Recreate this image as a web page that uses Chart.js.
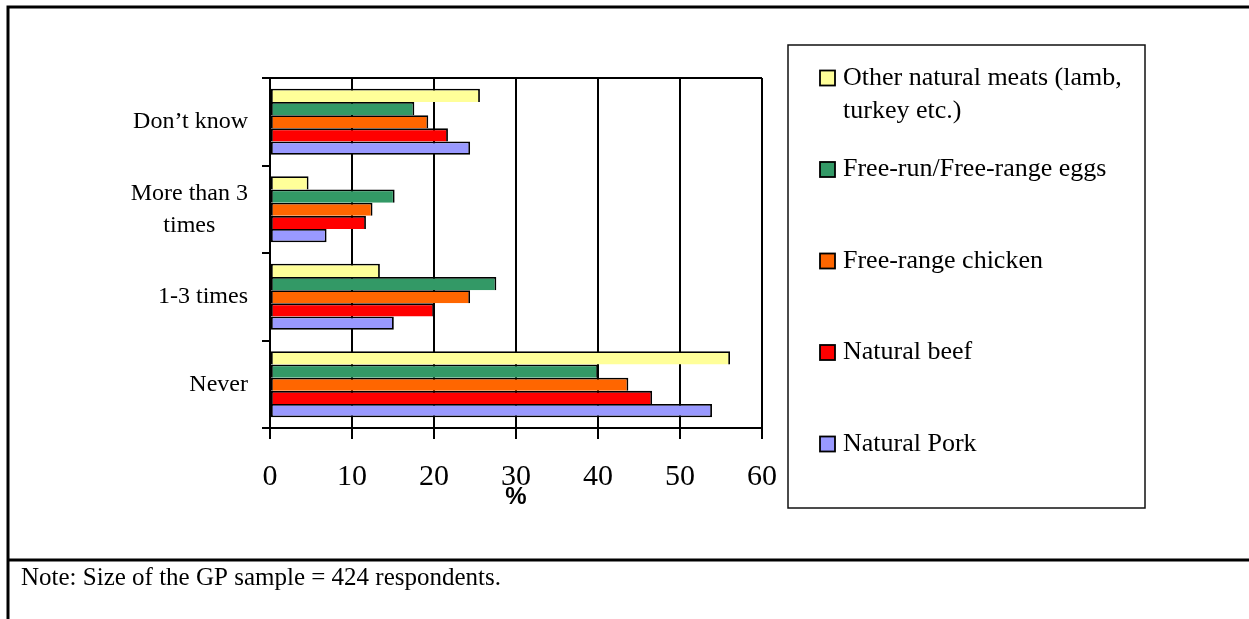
<!DOCTYPE html>
<html>
<head>
<meta charset="utf-8">
<script src="https://cdn.jsdelivr.net/npm/chart.js@4/dist/chart.umd.min.js"></script>
<style>
  html, body { margin: 0; padding: 0; background: #ffffff; }
  #wrap { position: relative; width: 1249px; height: 619px; }
  canvas { display: block; }
</style>
</head>
<body>
<div id="wrap"><canvas id="chart" width="1249" height="619"></canvas></div>
<script>
// Purchase frequency categories (top to bottom)
const categories = [["Don\u2019t know"], ["More than 3", "times"], ["1-3 times"], ["Never"]];

// Product series, in legend order
const seriesNames = [
  "Other natural meats (lamb, turkey etc.)",
  "Free-run/Free-range eggs",
  "Free-range chicken",
  "Natural beef",
  "Natural Pork"
];
const otherMeats = [25.6, 4.7, 13.4, 56.1];
const eggs       = [17.6, 15.2, 27.6, 40.0];
const chicken    = [19.3, 12.5, 24.4, 43.7];
const beef       = [21.7, 11.7, 20.0, 46.6];
const pork       = [24.4, 6.9, 15.1, 53.9];
const seriesColors = ["#FFFF99", "#339966", "#FF6600", "#FF0000", "#9999FF"];

// Value axis
const xTicks = [0, 10, 20, 30, 40, 50, 60];
const axisTitle = "%";
const noteText = "Note: Size of the GP sample = 424 respondents.";

const seriesValues = [otherMeats, eggs, chicken, beef, pork];
const SERIF = "'Liberation Serif', 'Times New Roman', serif";
const SANS = "'Liberation Sans', Arial, sans-serif";
const BW = 1.8;

const datasets = seriesNames.map((name, i) => ({
  label: name,
  data: seriesValues[i],
  backgroundColor: seriesColors[i],
  borderColor: "#000000",
  // bars in a group share one separating line
  borderWidth: i === seriesNames.length - 1
    ? { top: BW, bottom: BW, left: BW, right: BW }
    : { top: BW, bottom: 0, left: BW, right: BW },
  borderSkipped: false,
  barPercentage: 1.0,
  categoryPercentage: 0.755
}));

// Page frame, note row, plot box top edge
const framePlugin = {
  id: "frame",
  beforeDraw(chart) {
    const ctx = chart.ctx;
    ctx.save();
    ctx.fillStyle = "#ffffff";
    ctx.fillRect(0, 0, chart.width, chart.height);
    ctx.strokeStyle = "#000000";
    ctx.lineWidth = 3;
    ctx.beginPath();
    ctx.moveTo(8, 7); ctx.lineTo(chart.width, 7);
    ctx.moveTo(8, 5.5); ctx.lineTo(8, chart.height);
    ctx.moveTo(8, 560); ctx.lineTo(chart.width, 560);
    ctx.stroke();
    ctx.fillStyle = "#000000";
    ctx.font = "25px " + SERIF;
    ctx.textBaseline = "alphabetic";
    ctx.textAlign = "left";
    ctx.fillText(noteText, 21, 585);
    ctx.restore();
  },
  beforeDatasetsDraw(chart) {
    const a = chart.chartArea;
    const ctx = chart.ctx;
    ctx.save();
    ctx.strokeStyle = "#000000";
    ctx.lineWidth = 2;
    ctx.beginPath();
    ctx.moveTo(a.left, a.top);
    ctx.lineTo(a.right, a.top);
    ctx.stroke();
    ctx.restore();
  }
};

// Category labels: block right-aligned, lines centred within the block
const categoryLabelPlugin = {
  id: "categoryLabels",
  afterDraw(chart) {
    const ys = chart.scales.y;
    const ctx = chart.ctx;
    const rightEdge = 248;
    const lineH = 32;
    ctx.save();
    ctx.font = "24px " + SERIF;
    ctx.fillStyle = "#000000";
    ctx.textAlign = "center";
    ctx.textBaseline = "middle";
    chart.data.labels.forEach((lines, i) => {
      const yc = ys.getPixelForTick(i);
      const w = Math.max(...lines.map(l => ctx.measureText(l).width));
      const cx = rightEdge - w / 2;
      const y0 = yc - (lines.length - 1) * lineH / 2;
      lines.forEach((l, k) => ctx.fillText(l, cx, y0 + k * lineH));
    });
    ctx.restore();
  }
};

// Boxed legend on the right, built from the datasets
const boxLegendPlugin = {
  id: "boxLegend",
  afterDraw(chart) {
    const ctx = chart.ctx;
    const box = { x1: 788, y1: 45, x2: 1145, y2: 508 };
    ctx.save();
    ctx.strokeStyle = "#111111";
    ctx.lineWidth = 1.5;
    ctx.strokeRect(box.x1, box.y1, box.x2 - box.x1, box.y2 - box.y1);
    ctx.font = "26px " + SERIF;
    ctx.textBaseline = "middle";
    ctx.textAlign = "left";
    const textX = 843, swX = 820, sw = 15;
    const firstY = 78, step = 91.5, lineH = 33;
    const maxW = box.x2 - textX - 6;
    chart.data.datasets.forEach((ds, i) => {
      const y = firstY + i * step;
      // wrap long labels
      const words = ds.label.split(" ");
      const lines = [];
      let cur = "";
      words.forEach(w => {
        const t = cur ? cur + " " + w : w;
        if (ctx.measureText(t).width > maxW && cur) { lines.push(cur); cur = w; }
        else cur = t;
      });
      if (cur) lines.push(cur);
      ctx.fillStyle = ds.backgroundColor;
      ctx.fillRect(swX, y - sw / 2, sw, sw);
      ctx.strokeStyle = "#000000";
      ctx.lineWidth = 1.8;
      ctx.strokeRect(swX, y - sw / 2, sw, sw);
      ctx.fillStyle = "#000000";
      lines.forEach((l, k) => ctx.fillText(l, textX, y + k * lineH));
    });
    ctx.restore();
  }
};

new Chart(document.getElementById("chart"), {
  type: "bar",
  data: { labels: categories, datasets: datasets },
  plugins: [framePlugin, categoryLabelPlugin, boxLegendPlugin],
  options: {
    indexAxis: "y",
    responsive: false,
    animation: false,
    devicePixelRatio: 1,
    layout: { padding: { top: 78, right: 487, bottom: 0, left: 0 } },
    plugins: {
      legend: { display: false },
      tooltip: { enabled: false },
      title: { display: false }
    },
    scales: {
      x: {
        type: "linear",
        min: 0,
        max: 60,
        afterBuildTicks(s) { s.ticks = xTicks.map(v => ({ value: v })); },
        afterFit(s) { s.height = 191; },
        ticks: {
          color: "#000000",
          font: { family: SERIF, size: 30 },
          padding: 20,
          maxRotation: 0
        },
        grid: { color: "#000000", lineWidth: 2, tickLength: 11, drawTicks: true },
        border: { color: "#000000", width: 2 },
        title: {
          display: true,
          text: axisTitle,
          color: "#000000",
          font: { family: SANS, size: 24, weight: "bold" },
          padding: { top: 0, bottom: 107 }
        }
      },
      y: {
        afterFit(s) { s.width = 270; },
        ticks: { display: false },
        grid: {
          offset: true,
          drawOnChartArea: false,
          drawTicks: true,
          tickLength: 8,
          color: "#000000",
          lineWidth: 2
        },
        border: { color: "#000000", width: 2 }
      }
    }
  }
});
</script>
</body>
</html>
